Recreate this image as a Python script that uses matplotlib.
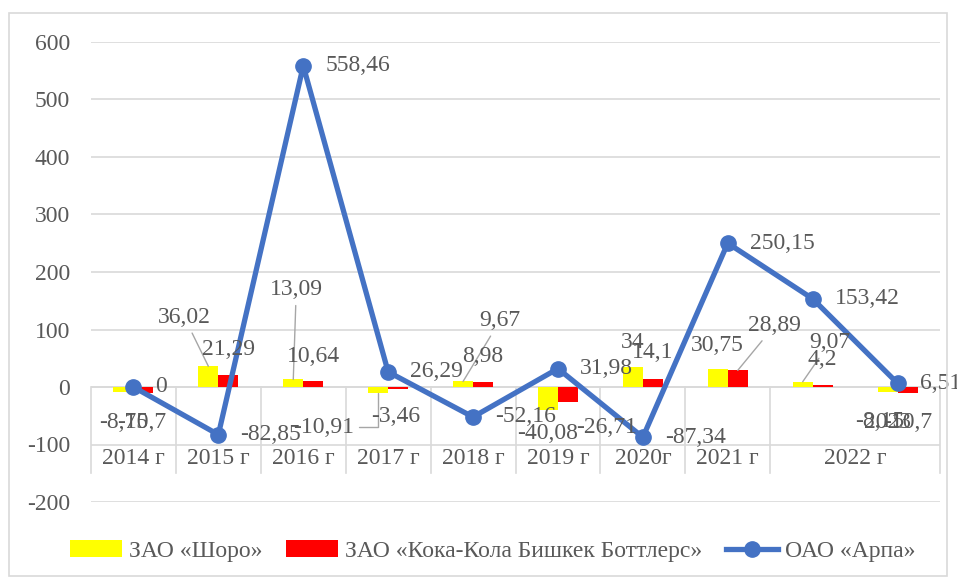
import numpy as np
import matplotlib.pyplot as plt
from matplotlib.patches import Rectangle

plt.rcParams['font.family'] = ['Liberation Serif', 'DejaVu Serif']
plt.rcParams['axes.unicode_minus'] = False

# Data
years = ["2014 г", "2015 г", "2016 г", "2017 г", "2018 г", "2019 г", "2020г", "2021 г", "2022 г", ""]
shoro = [-8.75, 36.02, 13.09, -10.91, 9.67, -40.08, 34, 30.75, 9.07, -8.15]
coca = [-10.7, 21.29, 10.64, -3.46, 8.98, -26.71, 14.1, 28.89, 4.2, -10.7]
arpa = [0, -82.85, 558.46, 26.29, -52.16, 31.98, -87.34, 250.15, 153.42, 6.51]

# label offsets in pixels (dx, dy) and whether a leader line is drawn
shoro_off = [(0, -30), (-24, 49), (3, 90), (-55, -34), (37, 61), (0, -23), (0, 25), (0, 24), (27, 39), (-8, -30)]
shoro_lead = [False, True, True, True, True, False, False, False, True, False]
coca_off = [(-2, -29), (0, 25), (0, 24), (-2, -28), (0, 25), (39, -25), (0, 26), (37, 45), (0, 25), (0, -29)]
coca_lead = [False, False, False, False, False, False, False, True, False, False]

txt = '#595959'
grid_c = '#D9D9D9'
fs = 17

def fmt(v):
    s = ('%.2f' % v).rstrip('0').rstrip('.')
    return s.replace('.', ',')

fig = plt.figure(figsize=(9.57, 5.8), dpi=100)
ax = fig.add_axes([91 / 957, 1 - 502 / 580, 849 / 957, 460 / 580])

x = np.arange(len(arpa))
w = 0.235
b1 = ax.bar(x - w / 2, shoro, w, color='#FFFF00', label='ЗАО «Шоро»', zorder=3)
b2 = ax.bar(x + w / 2, coca, w, color='#FF0000', label='ЗАО «Кока-Кола Бишкек Боттлерс»', zorder=3)
l1, = ax.plot(x, arpa, color='#4472C4', lw=3.8, marker='o', ms=11, label='ОАО «Арпа»', zorder=4)

ax.set_xlim(-0.5, len(arpa) - 0.5)
ax.set_ylim(-200, 600)
ax.set_yticks(range(-200, 601, 100))
ax.set_xticks([])
ax.tick_params(axis='y', length=0, pad=15, labelsize=fs, labelcolor=txt)
for s in ax.spines.values():
    s.set_visible(False)
ax.yaxis.grid(True, color=grid_c, lw=1.2, zorder=0)
ax.set_axisbelow(True)

# category axis table
ax.axhline(0, color=grid_c, lw=1.2, zorder=1)
bounds = [-0.5, 0.5, 1.5, 2.5, 3.5, 4.5, 5.5, 6.5, 7.5, 9.5]
for b in bounds:
    ax.plot([b, b], [0, -150], color=grid_c, lw=1.2, zorder=1, clip_on=False)
for i, lab in enumerate(years[:8]):
    ax.text(i, -125, lab, ha='center', va='center', fontsize=fs, color=txt)
ax.text(8.5, -125, years[8], ha='center', va='center', fontsize=fs, color=txt)

# data labels
for i, v in enumerate(arpa):
    ax.annotate(fmt(v), (i, v), xytext=(22, 0), textcoords='offset pixels',
                ha='left', va='center', fontsize=fs, color=txt, zorder=5)

lead = dict(arrowstyle='-', color='#A6A6A6', lw=1, shrinkA=2, shrinkB=0)
for i, v in enumerate(shoro):
    ap = dict(lead) if shoro_lead[i] else None
    if ap is not None and i == 3:
        ap['connectionstyle'] = 'angle,angleA=0,angleB=90,rad=0'
    ax.annotate(fmt(v), (i - w / 2, v), xytext=shoro_off[i], textcoords='offset pixels',
                ha='center', va='center', fontsize=fs, color=txt, zorder=5, arrowprops=ap)
for i, v in enumerate(coca):
    ap = dict(lead) if coca_lead[i] else None
    ax.annotate(fmt(v), (i + w / 2, v), xytext=coca_off[i], textcoords='offset pixels',
                ha='center', va='center', fontsize=fs, color=txt, zorder=5, arrowprops=ap)
ax.annotate('2023', (9, 0), xytext=(-10, -35), textcoords='offset pixels',
            ha='center', va='center', fontsize=fs, color=txt, zorder=5)

fig.legend([b1, b2, l1], [b1.get_label(), b2.get_label(), l1.get_label()],
           loc='center', bbox_to_anchor=(0.515, 1 - 551 / 580), ncol=3, frameon=False,
           fontsize=fs, labelcolor=txt, handlelength=2.2, handletextpad=0.3,
           columnspacing=1.0)

fig.patches.append(Rectangle((9 / 957, 4 / 580), 938 / 957, 563 / 580, transform=fig.transFigure,
                             fill=False, edgecolor=grid_c, lw=1.2))

fig.savefig('out.png', dpi=100)
